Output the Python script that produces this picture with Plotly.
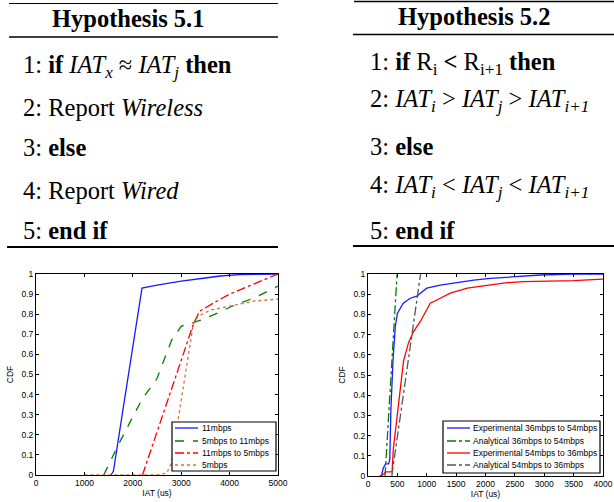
import plotly.graph_objects as go

W, H = 614, 502

# ---- Left chart data (IAT in us, CDF) ----
x_11 = [1550, 1600, 1800, 2000, 2190, 2500, 3000, 3500, 3800, 4200, 4600, 5000]
y_11 = [0.0, 0.02, 0.33, 0.63, 0.93, 0.945, 0.965, 0.98, 0.99, 0.997, 1.0, 1.0]

x_5to11 = [1400, 1700, 2000, 2200, 2500, 2800, 3000, 3400, 3700, 4100, 4500, 5000]
y_5to11 = [0.0, 0.15, 0.29, 0.38, 0.48, 0.67, 0.74, 0.77, 0.80, 0.845, 0.88, 0.94]

x_11to5 = [2200, 2500, 2700, 3000, 3250, 3380, 3700, 4000, 4500, 5000]
y_11to5 = [0.0, 0.21, 0.36, 0.57, 0.75, 0.815, 0.86, 0.90, 0.95, 1.0]

x_5 = [1000, 2500, 2700, 2800, 2900, 3040, 3150, 3250, 3350, 3600, 4000, 4500, 5000]
y_5 = [0.0, 0.0, 0.01, 0.06, 0.22, 0.44, 0.60, 0.75, 0.79, 0.82, 0.84, 0.865, 0.875]

left_names = ["11mbps", "5mbps to 11mbps", "11mbps to 5mbps", "5mbps"]

# ---- Right chart data ----
x_exp36 = [200, 230, 260, 300, 350, 370, 390, 425, 465, 500, 600, 720, 830, 950, 1000, 1230, 1500, 1800, 2080, 2500, 2930, 3500, 4000]
y_exp36 = [0.0, 0.0, 0.04, 0.06, 0.06, 0.08, 0.33, 0.57, 0.74, 0.805, 0.855, 0.88, 0.89, 0.92, 0.93, 0.945, 0.957, 0.97, 0.978, 0.988, 0.995, 1.0, 1.0]

x_ana36 = [290, 495]
y_ana36 = [0.0, 1.0]

x_exp54 = [200, 270, 300, 410, 430, 455, 495, 565, 605, 690, 775, 890, 1000, 1060, 1230, 1400, 1690, 2030, 2370, 2650, 3500, 4000]
y_exp54 = [0.0, 0.01, 0.02, 0.02, 0.13, 0.195, 0.31, 0.475, 0.57, 0.66, 0.715, 0.765, 0.82, 0.855, 0.88, 0.905, 0.93, 0.945, 0.957, 0.962, 0.967, 0.975]

x_ana54 = [405, 895]
y_ana54 = [0.0, 1.0]

right_names = ["Experimental 36mbps to 54mbps", "Analytical 36mbps to 54mbps",
               "Experimental 54mbps to 36mbps", "Analytical 54mbps to 36mbps"]

left_x_ticks = [0, 1000, 2000, 3000, 4000, 5000]
right_x_ticks = [0, 500, 1000, 1500, 2000, 2500, 3000, 3500, 4000]

left_styles = [("#1a1aff", "solid"), ("#008000", "dash"), ("#ff0000", "dashdot"), ("#cc7744", "dot")]
right_styles = [("#1a1aff", "solid"), ("#008000", "dashdot"), ("#ff0000", "solid"), ("#555555", "dashdot")]

fig = go.Figure()

def add(x, y, name, style, xa, ya):
    fig.add_trace(go.Scatter(x=x, y=y, name=name, mode="lines",
                             line=dict(color=style[0], dash=style[1], width=1.3),
                             xaxis=xa, yaxis=ya, showlegend=False))

for (x, y), n, s in zip([(x_11, y_11), (x_5to11, y_5to11), (x_11to5, y_11to5), (x_5, y_5)], left_names, left_styles):
    add(x, y, n, s, "x", "y")
for (x, y), n, s in zip([(x_exp36, y_exp36), (x_ana36, y_ana36), (x_exp54, y_exp54), (x_ana54, y_ana54)], right_names, right_styles):
    add(x, y, n, s, "x2", "y2")

def px(x):
    return x / W

def py(y):
    return 1 - y / H

sans = "Liberation Sans, Arial"
tickfont = dict(family=sans, size=8.5, color="#000")
axcommon = dict(showline=True, linecolor="#000", linewidth=1, mirror="ticks",
                ticks="inside", ticklen=3, tickcolor="#000", showgrid=False,
                zeroline=False, tickfont=tickfont, automargin=False)

fig.update_layout(
    width=W, height=H, margin=dict(l=0, r=0, t=0, b=0),
    paper_bgcolor="white", plot_bgcolor="white", showlegend=False,
    xaxis=dict(domain=[px(36), px(278)], range=[0, 5000], tickvals=left_x_ticks,
               title=dict(text="IAT (us)", font=tickfont, standoff=2), anchor="y", **axcommon),
    yaxis=dict(domain=[py(475), py(274)], range=[0, 1], dtick=0.1,
               title=dict(text="CDF", font=tickfont, standoff=6), anchor="x", **axcommon),
    xaxis2=dict(domain=[px(368), px(603)], range=[0, 4000], tickvals=right_x_ticks,
                title=dict(text="IAT (us)", font=tickfont, standoff=2), anchor="y2", **axcommon),
    yaxis2=dict(domain=[py(476), py(274)], range=[0, 1], dtick=0.1,
                title=dict(text="CDF", font=tickfont, standoff=6), anchor="x2", **axcommon),
)

ann = []
shapes = []

# ---- manual compact legends (MATLAB style) ----
def legend(box, rows, line_x, text_x, names, styles):
    x0, y0, x1, y1 = box
    shapes.append(dict(type="rect", xref="paper", yref="paper", x0=px(x0), x1=px(x1),
                       y0=py(y1), y1=py(y0), line=dict(color="#000", width=1.2),
                       fillcolor="white", layer="above"))
    for ry, n, s in zip(rows, names, styles):
        shapes.append(dict(type="line", xref="paper", yref="paper", x0=px(line_x[0]), x1=px(line_x[1]),
                           y0=py(ry), y1=py(ry), line=dict(color=s[0], dash=s[1], width=1.3),
                           layer="above"))
        ann.append(dict(x=px(text_x), y=py(ry), xref="paper", yref="paper", text=n,
                        showarrow=False, xanchor="left", yanchor="middle",
                        font=dict(family=sans, size=8.5, color="#000")))

legend((172, 422, 276, 471), [428, 441, 453, 465], (175, 198), 200, left_names, left_styles)
legend((443, 421, 600, 473), [428, 441, 453, 465], (447, 470), 471, right_names, right_styles)

# ---- Hypothesis boxes (text) ----
serif = "Liberation Serif"

def text(x, y, s, size=24.5, anchor="left"):
    ann.append(dict(x=px(x), y=py(y), xref="paper", yref="paper", text=s,
                    showarrow=False, xanchor=anchor, yanchor="middle",
                    font=dict(family=serif, size=size, color="#000")))

text(128, 19, "<b>Hypothesis 5.1</b>", size=24.5, anchor="center")
left_lines = [
    "1: <b>if</b> <i>IAT<sub>x</sub></i> ≈ <i>IAT<sub>j</sub></i> <b>then</b>",
    "2: Report <i>Wireless</i>",
    "3: <b>else</b>",
    "4: Report <i>Wired</i>",
    "5: <b>end if</b>",
]
for yy, s in zip([66, 107, 148, 190, 230], left_lines):
    text(21, yy, s)

text(474, 17, "<b>Hypothesis 5.2</b>", size=24.5, anchor="center")
right_lines = [
    "1: <b>if</b> R<sub>i</sub> <b><</b> R<sub>i+1</sub> <b>then</b>",
    "2: <i>IAT<sub>i</sub></i> > <i>IAT<sub>j</sub></i> > <i>IAT<sub>i+1</sub></i>",
    "3: <b>else</b>",
    "4: <i>IAT<sub>i</sub></i> < <i>IAT<sub>j</sub></i> < <i>IAT<sub>i+1</sub></i>",
    "5: <b>end if</b>",
]
for yy, s in zip([63, 100, 147, 186, 230], right_lines):
    text(368, yy, s)

def hline(x0, x1, y, w):
    shapes.append(dict(type="line", xref="paper", yref="paper", x0=px(x0), x1=px(x1),
                       y0=py(y), y1=py(y), line=dict(color="#000", width=w)))

hline(9, 278, 3.5, 1)
hline(9, 278, 37, 1.3)
hline(7, 278, 247, 2)
hline(354, 614, 1.5, 1.3)
hline(353, 614, 34.5, 1.3)
hline(353, 614, 246, 2)

fig.update_layout(annotations=ann, shapes=shapes)

fig.write_html("out.html", config={"displayModeBar": False},
               post_script="document.body.style.margin='0';document.body.style.overflow='hidden';")
